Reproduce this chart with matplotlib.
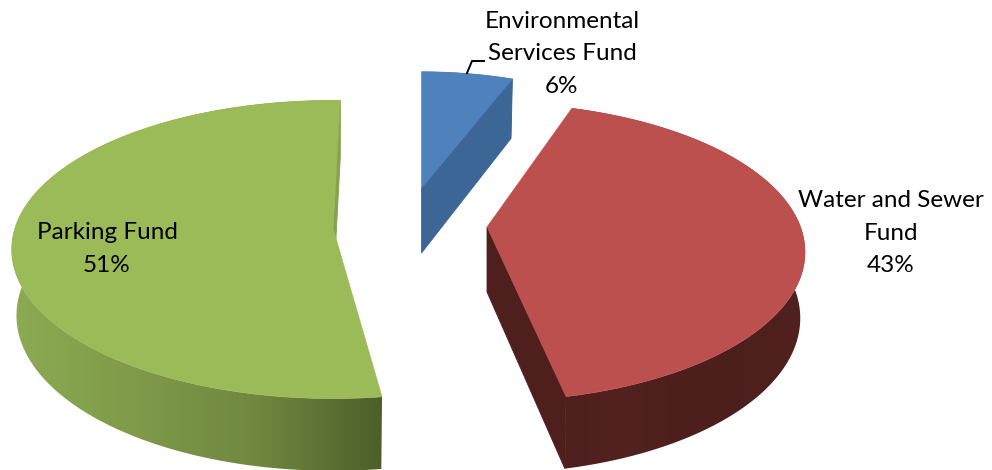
import numpy as np
import matplotlib
matplotlib.use("Agg")
import matplotlib.pyplot as plt
from matplotlib.colors import LinearSegmentedColormap
from matplotlib.patches import Polygon

plt.rcParams["font.family"] = ["Lato", "DejaVu Sans"]

labels = ["Environmental\nServices Fund", "Water and Sewer\nFund", "Parking Fund"]
values = [6, 43, 51]

# slice geometry, in canvas pixels
apex = [(421.5, 188), (487, 227), (333, 228)]
radius_x = [280, 313.5, 318]
radius_y = [133, 145, 146]
persp = [0.144, 0.168, 0.144]
start_deg = [0, 18.3, 172.4]
stretch = [1.0, 0.966, 1.03]
label_xy = [(562, 54), (891, 233), (107, 249)]

top_colors = ["#4f81bd", "#bc504e", "#9bbb59"]
cut_colors = ["#3b6696", "#4f1f1d", "#86a24c"]
wall_ramps = [
    ["#3b6696", "#3b6696"],
    ["#4f1f1d", "#522120", "#4c1e1c", "#4d1f1d", "#50211f"],
    ["#8cab53", "#7f9a49", "#6f8740", "#4d5f2a"],
]

depth = 65
depth_persp = 0.1
wall_shrink = 0.985

fig = plt.figure(figsize=(9.92, 4.7), dpi=100)
ax = fig.add_axes([0, 0, 1, 1])
ax.axis("off")


def rim(t, a, b, p):
    w = 1 + p * np.cos(t)
    return a * np.sin(t) / w, -b * np.cos(t) / w


def drop(t):
    return depth / (1 + depth_persp * np.cos(t))


for i in [2, 1, 0]:
    x0, y0 = apex[i]
    span = 360 * values[i] / sum(values) * stretch[i]
    t = np.radians(np.linspace(start_deg[i], start_deg[i] + span, 240))
    dx, dy = rim(t, radius_x[i], radius_y[i], persp[i])
    xs, ys = x0 + dx, y0 + dy
    xb, yb = x0 + dx * wall_shrink, ys + drop(t)

    # outer wall, shaded left to right
    wall = np.column_stack([np.r_[xs, xb[::-1]], np.r_[ys, yb[::-1]]])
    patch = Polygon(wall, closed=True, fc="none", ec="none", zorder=i + 1)
    ax.add_patch(patch)
    cmap = LinearSegmentedColormap.from_list("wall", wall_ramps[i])
    img = ax.imshow(np.linspace(0, 1, 256)[None, :], cmap=cmap, aspect="auto",
                    extent=[wall[:, 0].min(), wall[:, 0].max(), wall[:, 1].max(), wall[:, 1].min()],
                    zorder=i + 1)
    img.set_clip_path(patch)

    # cut face at the clockwise end of the slice
    cut = [(x0, y0), (xs[-1], ys[-1]), (xb[-1], yb[-1]), (x0, y0 + depth)]
    ax.add_patch(Polygon(cut, closed=True, fc=cut_colors[i], ec=cut_colors[i], lw=0.6, zorder=i + 1.1))

    # top face
    top = np.column_stack([np.r_[x0, xs], np.r_[y0, ys]])
    ax.add_patch(Polygon(top, closed=True, fc=top_colors[i], ec=top_colors[i], lw=0.4, zorder=i + 1.2))

ax.set_xlim(0, 992)
ax.set_ylim(470, 0)

# leader line for the small slice
ax.plot([467, 472, 484], [73, 61, 61], color="black", lw=1.4, zorder=6)

for i in range(3):
    ax.text(label_xy[i][0], label_xy[i][1], "%s\n%d%%" % (labels[i], values[i]),
            ha="center", va="center", fontsize=17.5, color="black",
            linespacing=1.65, zorder=7)

fig.savefig("out.png", dpi=100)
